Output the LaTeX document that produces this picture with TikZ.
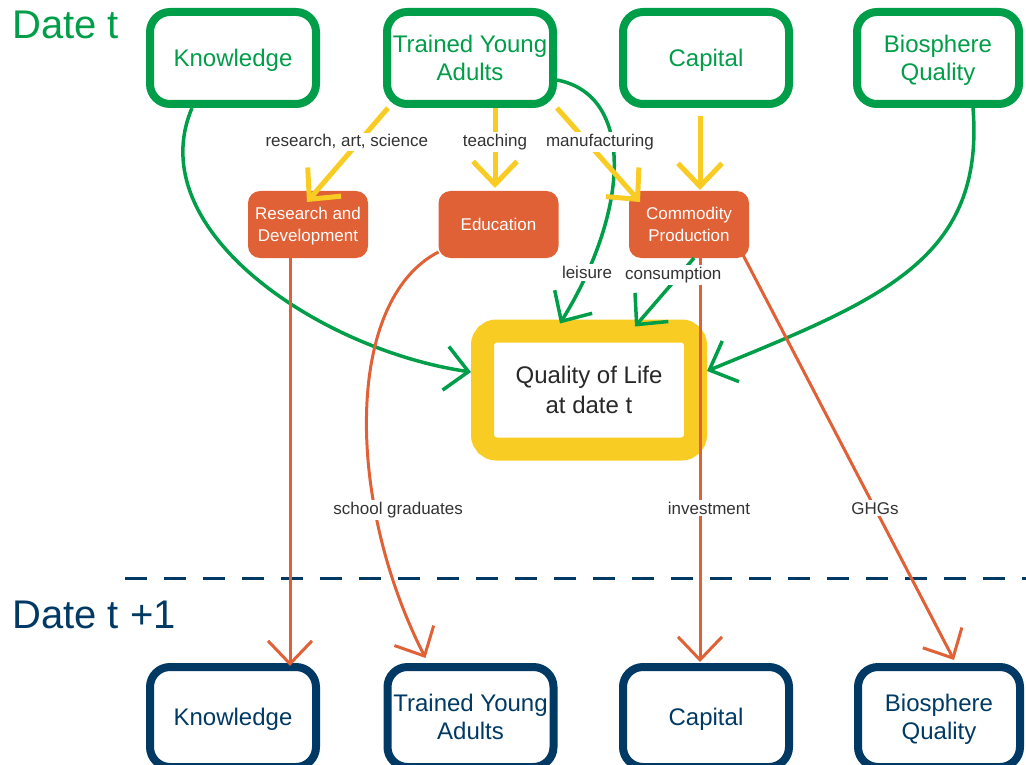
\documentclass[tikz,border=0pt]{standalone}
\usepackage{fontspec}
\setmainfont{Liberation Sans}
\usetikzlibrary{arrows.meta,calc}
\definecolor{myGreen}{RGB}{0,158,73}
\definecolor{myOrange}{RGB}{224,97,54}
\definecolor{myYellow}{RGB}{248,204,35}
\definecolor{myBlue}{RGB}{0,58,100}
\definecolor{myGray}{RGB}{51,51,51}
\definecolor{myDark}{RGB}{40,40,40}
\tikzset{
  topbox/.style={draw=myGreen, fill=white, line width=8pt, rounded corners=20pt, text=myGreen,
    font=\fontsize{24}{28}\selectfont, align=center, minimum width=166pt, minimum height=92pt,
    inner sep=0pt, text depth=0pt},
  botbox/.style={topbox, draw=myBlue, text=myBlue, minimum height=100pt},
  proc/.style={fill=myOrange, rounded corners=12pt, text=white, font=\fontsize{17}{22}\selectfont,
    align=center, minimum width=120pt, minimum height=67pt, inner sep=0pt, outer sep=0pt, text depth=0pt},
  qolbox/.style={draw=myYellow, fill=white, line width=23pt, rounded corners=14pt, text=myDark,
    font=\fontsize{24}{30}\selectfont, align=center, minimum width=213pt, minimum height=118pt, inner sep=0pt},
  lbl/.style={fill=white, text=myGray, font=\fontsize{17}{20}\selectfont, inner sep=2pt},
  datelbl/.style={anchor=base west, font=\fontsize{40}{48}\selectfont, inner sep=0pt},
  tipv/.style={-{Straight Barb[length=23pt,width=44pt]}},
  garrow/.style={draw=myGreen, line width=3.5pt, tipv},
  yarrow/.style={draw=myYellow, line width=5pt, tipv},
  oarrow/.style={draw=myOrange, line width=3pt, tipv},
}
\begin{document}
\begin{tikzpicture}[x=1pt,y=-1pt]
\useasboundingbox (0,0) rectangle (1026,765);

% date labels and separator
\node[datelbl, text=myGreen] (dt) at (12,39) {Date t};
\node[datelbl, text=myBlue] (dt1) at (12,628) {Date t +1};
\coordinate (d1) at (125,578);
\coordinate (d2) at (1026,578);
\draw[myBlue, line width=3pt, dash pattern=on 22pt off 17pt] (d1) -- (d2);

% top stocks
\node[topbox] (kt) at (233,58) {Knowledge};
\node[topbox] (tt) at (470,58) {Trained Young\\Adults};
\node[topbox] (ct) at (706,58) {Capital};
\node[topbox, minimum width=162pt] (bt) at (938,58) {Biosphere\\Quality};

% processes
\node[proc] (rd) at (308,224.5) {Research and\\Development};
\node[proc] (ed) at (498.5,224.5) {Education};
\node[proc] (cp) at (689,224.5) {Commodity\\Production};

% quality of life
\node[qolbox] (qol) at (589,390) {Quality of Life\\at date t};

% bottom stocks
\node[botbox] (kb) at (233,717) {Knowledge};
\node[botbox] (tb) at (470.5,717) {Trained Young\\Adults};
\node[botbox] (capb) at (706,717) {Capital};
\node[botbox, minimum width=162pt] (bb) at (939,717) {Biosphere\\Quality};

% green flows
\draw[garrow] ($(kt.south)+(-41,0)$) .. controls (140,230) and (320,350) .. ($(qol.west)+(0,-18)$);
\draw[garrow] ($(bt.south)+(35,0)$) .. controls (985,260) and (880,300) .. ($(qol.east)+(0,-19)$);
\draw[garrow] ($(tt.east)+(0,22)$) .. controls (635,95) and (630,210) .. node[lbl, pos=0.85] {leisure} ($(qol.north)+(-29,4)$);

% yellow flows
\draw[yarrow] ($(tt.south)+(-82,0)$) -- node[lbl, pos=0.36, xshift=-12pt] {research, art, science} ($(rd.north)+(-1,11)$);
\draw[yarrow] ($(tt.south)+(25,0)$) -- node[lbl, pos=0.425] {teaching} ($(ed.north)+(-3.5,-3)$);
\draw[yarrow] ($(tt.south)+(87,0)$) -- node[lbl, pos=0.36, xshift=13pt] {manufacturing} ($(cp.north)+(-49,11)$);
\draw[yarrow] ($(ct.south)+(-6,8)$) -- ($(cp.north)+(11,-1)$);

% orange flows
\draw[oarrow] ($(rd.south)+(-18,0)$) -- ($(kb.north)+(57,3)$);
\draw[oarrow] ($(ed.west)+(0,27.5)$) .. controls (345,300) and (345,500) .. node[lbl, pos=0.7, xshift=23pt] {school graduates} ($(tb.north)+(-45,-5)$);
\draw[oarrow] ($(cp.south)+(11,0)$) -- node[lbl, pos=0.619, xshift=9pt] {investment} ($(capb.north)+(-6,-1)$);
\draw[oarrow] ($(cp.south east)+(-7,-5)$) -- node[lbl, pos=0.627] {GHGs} ($(bb.north)+(15,-3)$);

% consumption
\draw[garrow] ($(cp.south)+(5,0)$) -- node[lbl, pos=0.25, xshift=-6pt] {consumption} ($(qol.north)+(46,7)$);
\end{tikzpicture}
\end{document}
